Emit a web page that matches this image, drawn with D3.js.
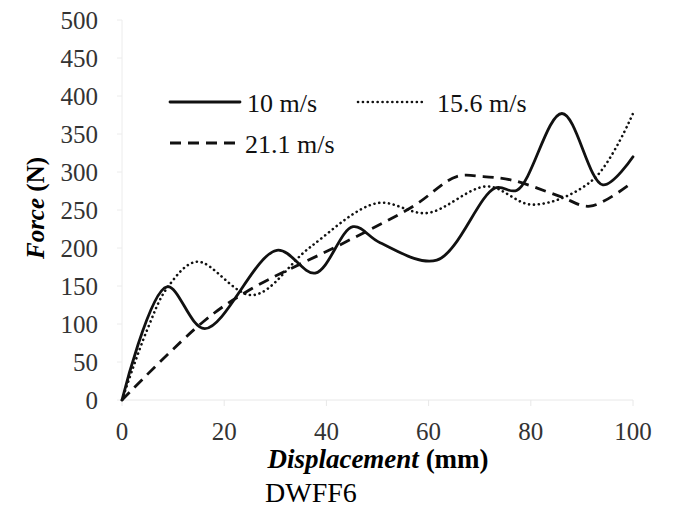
<!DOCTYPE html>
<html>
<head>
<meta charset="utf-8">
<script src="https://cdn.jsdelivr.net/npm/d3@7"></script>
<style>
  body { margin: 0; background: #fff; }
</style>
</head>
<body>
<script>
// values
const xTicks = [0, 20, 40, 60, 80, 100];
const yTicks = [0, 50, 100, 150, 200, 250, 300, 350, 400, 450, 500];

const v10x = [0, 8.8, 16.2, 30.3, 37.8, 45.2, 50.5, 61.6, 73, 77.3, 86.1, 94.1, 100];
const v10y = [0, 149, 94, 197, 167, 228, 207, 184, 279, 276, 377, 283, 320];

const v15x = [0, 4.9, 9, 14.7, 25.6, 36.8, 49.9, 59.7, 71.4, 80.4, 92.2, 100];
const v15y = [0, 92, 149, 182, 138, 201, 259, 246, 281, 257, 290, 377];

const v21x = [0, 15.9, 25, 43.2, 57, 65.5, 70.7, 76.5, 85.7, 91.6, 100];
const v21y = [0, 103, 145, 206, 255, 294, 294, 289, 268, 255, 287];

const seriesNames = ['10 m/s', '15.6 m/s', '21.1 m/s'];

const width = 673, height = 511;
const serif = "'Liberation Serif', 'Times New Roman', 'DejaVu Serif', serif";
const x = d3.scaleLinear().domain([0, 100]).range([122, 633]);
const y = d3.scaleLinear().domain([0, 500]).range([400, 20]);

const svg = d3.select('body').append('svg')
  .attr('width', width)
  .attr('height', height)
  .attr('font-family', serif);

// faint axes and ticks
svg.append('line')
  .attr('x1', x(0)).attr('x2', x(100))
  .attr('y1', y(0)).attr('y2', y(0))
  .attr('stroke', '#e8e8e8');
svg.append('line')
  .attr('x1', x(0)).attr('x2', x(0))
  .attr('y1', y(0)).attr('y2', y(500))
  .attr('stroke', '#ececec');
svg.selectAll('.xtick').data(xTicks).join('line')
  .attr('x1', (d) => x(d)).attr('x2', (d) => x(d))
  .attr('y1', y(0)).attr('y2', y(0) + 6)
  .attr('stroke', '#e8e8e8');
svg.selectAll('.ytick').data(yTicks).join('line')
  .attr('x1', x(0) - 5).attr('x2', x(0))
  .attr('y1', (d) => y(d)).attr('y2', (d) => y(d))
  .attr('stroke', '#ececec');

// tick labels
svg.selectAll('.yt').data(yTicks).join('text')
  .attr('x', 98)
  .attr('y', (d) => y(d))
  .attr('text-anchor', 'end')
  .attr('dominant-baseline', 'central')
  .attr('font-size', 25)
  .attr('fill', '#333')
  .text((d) => d);

svg.selectAll('.xt').data(xTicks).join('text')
  .attr('x', (d) => x(d))
  .attr('y', 431)
  .attr('text-anchor', 'middle')
  .attr('dominant-baseline', 'central')
  .attr('font-size', 25)
  .attr('fill', '#333')
  .text((d) => d);

// axis titles
const yt = svg.append('text')
  .attr('transform', 'translate(35,208) rotate(-90)')
  .attr('text-anchor', 'middle')
  .attr('dominant-baseline', 'central')
  .attr('font-size', 25)
  .attr('font-weight', 'bold');
yt.append('tspan').attr('font-style', 'italic').text('Force');
yt.append('tspan').text(' (N)');

const xt = svg.append('text')
  .attr('x', 378)
  .attr('y', 459)
  .attr('text-anchor', 'middle')
  .attr('dominant-baseline', 'central')
  .attr('font-size', 27)
  .attr('font-weight', 'bold');
xt.append('tspan').attr('font-style', 'italic').text('Displacement');
xt.append('tspan').text(' (mm)');

svg.append('text')
  .attr('x', 265)
  .attr('y', 492)
  .attr('dominant-baseline', 'central')
  .attr('font-size', 28)
  .text('DWFF6');

// curves
const line = d3.line()
  .x((d) => x(d[0]))
  .y((d) => y(d[1]))
  .curve(d3.curveCatmullRom.alpha(0.5));

const styles = [
  { w: 2.8, dash: null, cap: 'round' },
  { w: 2.6, dash: '0.1 4.8', cap: 'round' },
  { w: 2.8, dash: '11 7', cap: 'butt' }
];
const data = [
  d3.zip(v10x, v10y),
  d3.zip(v15x, v15y),
  d3.zip(v21x, v21y)
];

svg.selectAll('.series').data(data).join('path')
  .attr('d', line)
  .attr('fill', 'none')
  .attr('stroke', '#111')
  .attr('stroke-width', (d, i) => styles[i].w)
  .attr('stroke-dasharray', (d, i) => styles[i].dash)
  .attr('stroke-linecap', (d, i) => styles[i].cap)
  .attr('stroke-linejoin', 'round');

// legend
const legendPos = [
  { x1: 170, x2: 240, y: 102, tx: 247 },
  { x1: 358, x2: 424, y: 102, tx: 437 },
  { x1: 170, x2: 238, y: 143, tx: 245 }
];
const leg = svg.selectAll('.leg').data(seriesNames).join('g');
leg.append('line')
  .attr('x1', (d, i) => legendPos[i].x1)
  .attr('x2', (d, i) => legendPos[i].x2)
  .attr('y1', (d, i) => legendPos[i].y)
  .attr('y2', (d, i) => legendPos[i].y)
  .attr('stroke', '#111')
  .attr('stroke-width', (d, i) => styles[i].w)
  .attr('stroke-dasharray', (d, i) => styles[i].dash)
  .attr('stroke-linecap', (d, i) => styles[i].cap);
leg.append('text')
  .attr('x', (d, i) => legendPos[i].tx)
  .attr('y', (d, i) => legendPos[i].y + 1)
  .attr('dominant-baseline', 'central')
  .attr('font-size', 26)
  .attr('fill', '#111')
  .text((d) => d);
</script>
</body>
</html>
